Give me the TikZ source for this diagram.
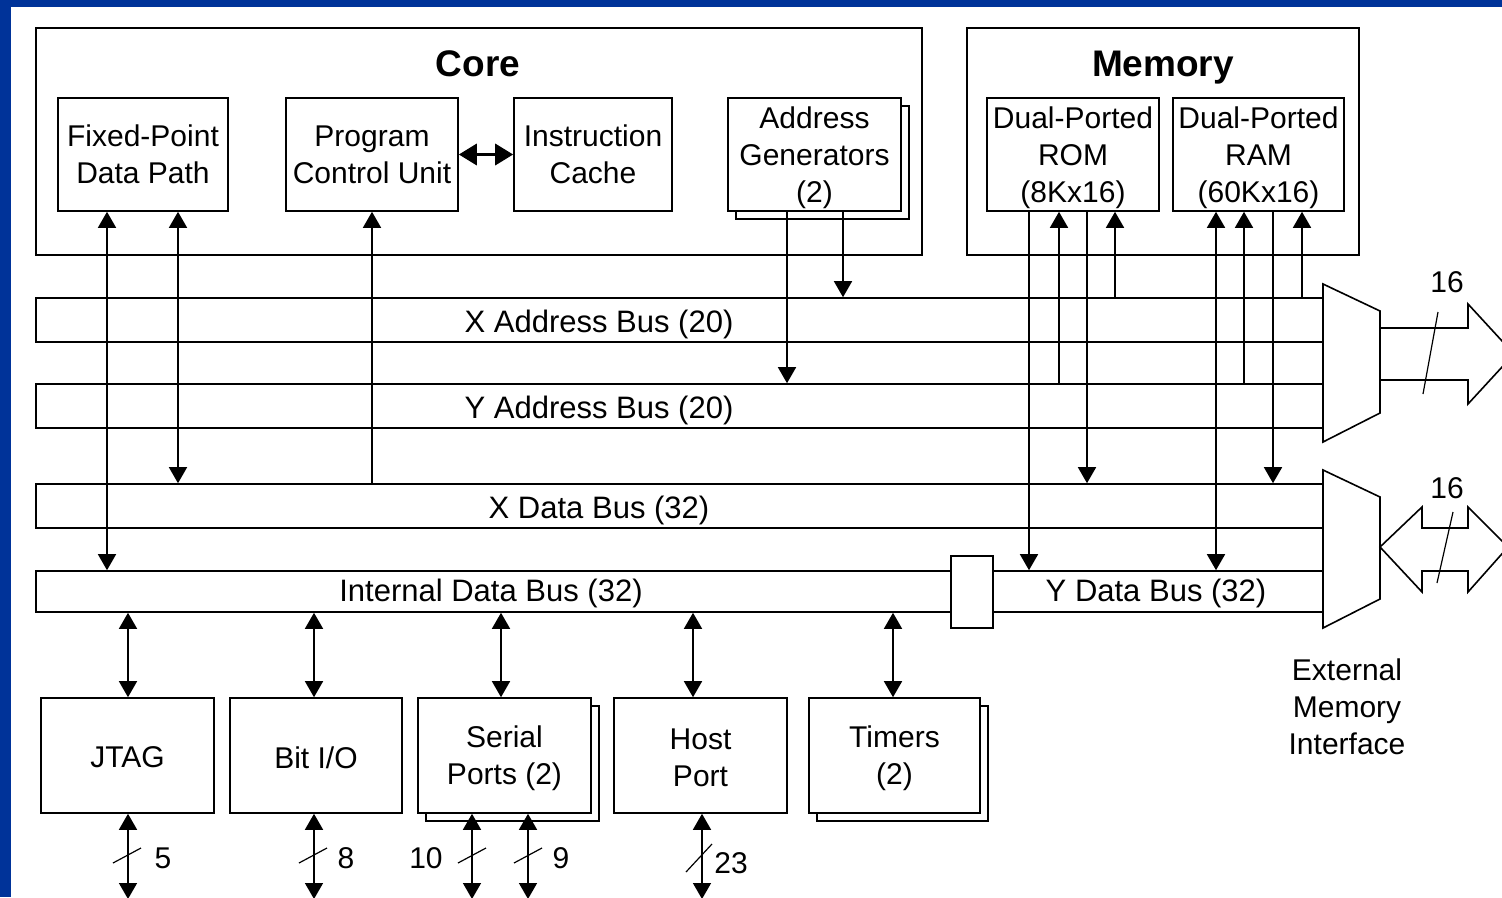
\documentclass[tikz,border=0pt]{standalone}
\usepackage{fontspec}
\setmainfont{Liberation Sans}
\usetikzlibrary{arrows.meta,shadows}
\definecolor{framecol}{HTML}{003399}
\begin{document}
\begin{tikzpicture}[x=1pt,y=-1pt,
  font=\fontsize{30}{37}\selectfont,
  line width=1.6pt,
  >={Triangle[width=18pt,length=16pt]},
  box/.style={draw,fill=white,align=center,inner sep=0pt,minimum height=113pt},
  lowbox/.style={draw,fill=white,align=center,inner sep=0pt,minimum height=115pt},
  shad/.style={copy shadow={shadow xshift=8pt,shadow yshift=-8pt}},
  bus/.style={draw,inner sep=0pt},
  title/.style={font=\fontsize{37}{40}\selectfont\bfseries,anchor=base,inner sep=0pt},
  lbl/.style={inner sep=0pt},
  txt/.style={inner sep=0pt,align=center},
  buslbl/.style={inner sep=0pt,font=\fontsize{31}{37}\selectfont},
  tick/.style={line width=1.2pt},
  fat/.style={line width=3.5pt,{Triangle[width=21pt,length=18pt]}-{Triangle[width=21pt,length=18pt]}}
]
\useasboundingbox (0,0) rectangle (1502,897);
\clip (0,0) rectangle (1502,897);
\fill[white] (0,0) rectangle (1502,897);
\fill[framecol] (0,0) rectangle (1502,7);
\fill[framecol] (0,0) rectangle (11,897);

% outer groups
\node[draw,minimum width=886pt,minimum height=227pt,inner sep=0pt] (core) at (479,141.5) {};
\node[draw,minimum width=392pt,minimum height=227pt,inner sep=0pt] (mem) at (1163,141.5) {};
\node[title] (coret) at (478,76) {Core};
\node[title] (memt) at (1163,76) {Memory};

% core blocks
\node[box,minimum width=170pt] (fp) at (143,154.5) {Fixed-Point\\Data Path};
\node[box,minimum width=172pt] (pcu) at (372,154.5) {Program\\Control Unit};
\node[box,minimum width=158pt] (ic) at (593,154.5) {Instruction\\Cache};
\node[box,shad,minimum width=173pt] (ag) at (814.5,154.5) {};
\node[txt] (agt) at ([yshift=-3pt]ag.center) {Address\\Generators\\(2)};
\node[box,minimum width=172pt] (rom) at (1073,154.5) {};
\node[txt] (romt) at ([yshift=-3pt]rom.center) {Dual-Ported\\ROM\\(8Kx16)};
\node[box,minimum width=171pt] (ram) at (1258.5,154.5) {};
\node[txt] (ramt) at ([yshift=-3pt]ram.center) {Dual-Ported\\RAM\\(60Kx16)};

% buses
\node[bus,minimum width=1287pt,minimum height=44pt] (xab) at (679.5,320) {};
\node[bus,minimum width=1287pt,minimum height=44pt] (yab) at (679.5,406) {};
\node[bus,minimum width=1287pt,minimum height=44pt] (xdb) at (679.5,506) {};
\node[bus,minimum width=915pt,minimum height=41pt] (idb) at (493.5,591.5) {};
\node[bus,minimum width=330pt,minimum height=41pt] (ydb) at (1158,591.5) {};
\node[bus,fill=white,minimum width=42pt,minimum height=72pt] (sw) at (972,592) {};
\node[buslbl] (xabl) at (599,324) {X Address Bus (20)};
\node[buslbl] (yabl) at (599,410) {Y Address Bus (20)};
\node[buslbl] (xdbl) at (599,510) {X Data Bus (32)};
\node[buslbl] (idbl) at (491,593) {Internal Data Bus (32)};
\node[buslbl] (ydbl) at (1156,593) {Y Data Bus (32)};

% peripherals
\node[lowbox,minimum width=173pt] (jtag) at (127.5,755.5) {};
\node[txt] (jtagt) at ([yshift=-2pt]jtag.center) {JTAG};
\node[lowbox,minimum width=172pt] (bio) at (316,755.5) {};
\node[txt] (biot) at ([yshift=-2pt]bio.center) {Bit I/O};
\node[lowbox,shad,minimum width=173pt] (sp) at (504.5,755.5) {};
\node[txt] (spt) at ([yshift=-2.5pt]sp.center) {Serial\\Ports (2)};
\node[lowbox,minimum width=173pt] (hp) at (700.5,755.5) {};
\node[txt] (hpt) at ([yshift=-2.5pt]hp.center) {Host\\Port};
\node[lowbox,shad,minimum width=171pt] (tm) at (894.5,755.5) {};
\node[txt] (tmt) at ([yshift=-2.5pt]tm.center) {Timers\\(2)};

\node[txt] (emi) at (1347,707) {External\\Memory\\Interface};

% column coordinates
\foreach \n/\x in {a/107,b/178,c/372,d/787,e/843,f/1029,g/1059,h/1087,i/1115,j/1216,k/1244,l/1273,m/1302,
                   n/128,o/314,p/501,q/693,r/893}
  \coordinate (col\n) at (\x,0);

% core connectors
\draw[<->] (fp.south -| cola) -- (idb.north -| cola);
\draw[<->] (fp.south -| colb) -- (xdb.north -| colb);
\draw[->] (xdb.north -| colc) -- (pcu.south -| colc);
\draw[fat] (pcu.east) -- (ic.west);
\draw[->] (ag.south -| cold) -- (yab.north -| cold);
\draw[->] (ag.south -| cole) -- (xab.north -| cole);

% memory connectors
\draw[->] (rom.south -| colf) -- (ydb.north -| colf);
\draw[->] (yab.north -| colg) -- (rom.south -| colg);
\draw[->] (rom.south -| colh) -- (xdb.north -| colh);
\draw[->] (xab.north -| coli) -- (rom.south -| coli);
\draw[<->] (ram.south -| colj) -- (ydb.north -| colj);
\draw[->] (yab.north -| colk) -- (ram.south -| colk);
\draw[->] (ram.south -| coll) -- (xdb.north -| coll);
\draw[->] (xab.north -| colm) -- (ram.south -| colm);

% peripheral connectors
\draw[<->] (idb.south -| coln) -- (jtag.north -| coln);
\draw[<->] (idb.south -| colo) -- (bio.north -| colo);
\draw[<->] (idb.south -| colp) -- (sp.north -| colp);
\draw[<->] (idb.south -| colq) -- (hp.north -| colq);
\draw[<->] (idb.south -| colr) -- (tm.north -| colr);

% external pins
\coordinate (jout) at (128,899);
\coordinate (bout) at (314,899);
\coordinate (s1out) at (472,899);
\coordinate (s2out) at (528,899);
\coordinate (hout) at (702,899);
\draw[<->] (jtag.south -| jout) -- (jout);
\draw[<->] (bio.south -| bout) -- (bout);
\draw[<->] (sp.south -| s1out) -- (s1out);
\draw[<->] (sp.south -| s2out) -- (s2out);
\draw[<->] (hp.south -| hout) -- (hout);
\draw[tick] (113,863) -- (141,848);
\draw[tick] (299,863) -- (327,848);
\draw[tick] (458,863) -- (486,848);
\draw[tick] (514,863) -- (542,848);
\draw[tick] (686,872) -- (712,844);
\node[lbl] (n5) at (163,858) {5};
\node[lbl] (n8) at (346,858) {8};
\node[lbl] (n10) at (426,858) {10};
\node[lbl] (n9) at (561,858) {9};
\node[lbl] (n23) at (731,863) {23};

% external memory interface muxes
\draw (1323,284) -- (1380,311) -- (1380,413) -- (1323,442) -- cycle;
\draw (1323,470) -- (1380,497) -- (1380,599) -- (1323,628) -- cycle;
\draw (1380,328) -- (1468,328) -- (1468,304) -- (1514,354) -- (1468,404) -- (1468,380) -- (1380,380);
\draw (1380,547) -- (1422,507) -- (1422,528) -- (1468,528) -- (1468,507) -- (1508,547)
      -- (1468,592) -- (1468,571) -- (1422,571) -- (1422,592) -- cycle;
\draw[tick] (1438,312) -- (1423,394);
\draw[tick] (1453,512) -- (1437,583);
\node[lbl] (w1) at (1447,282) {16};
\node[lbl] (w2) at (1447,488) {16};
\end{tikzpicture}
\end{document}
